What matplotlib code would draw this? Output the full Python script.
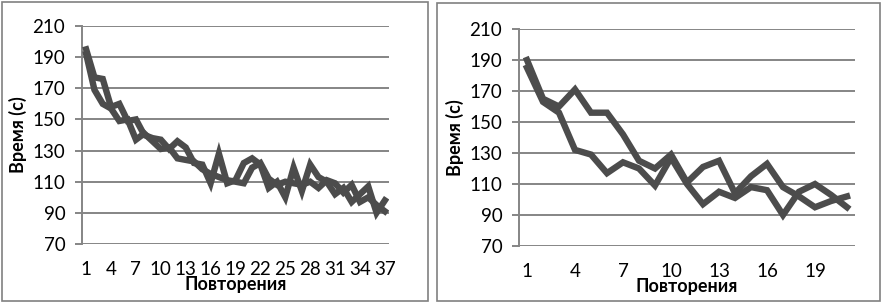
import matplotlib
matplotlib.use('Agg')
import matplotlib.pyplot as plt
from matplotlib.patches import Rectangle

# левый график: 37 повторений
left_a = [195, 177, 176, 158, 160, 149, 150, 140, 138, 137, 131, 136, 132, 122, 121, 109, 128, 109, 111,
          122, 125, 121, 106, 110, 100, 119, 104, 121, 113, 110, 102, 106, 97, 102, 107, 90, 98]
left_b = [192, 169, 160, 157, 149, 150, 137, 141, 136, 131, 132, 125, 124, 123, 118, 115, 113, 111, 110,
          109, 119, 122, 112, 108, 110, 109, 108, 110, 106, 111, 109, 103, 108, 97, 100, 95, 91]
# правый график: 21 повторение
right_a = [190, 165, 160, 171, 156, 156, 142, 125, 120, 129, 111, 121, 125, 104, 115, 123, 108, 102, 95, 99, 102]
right_b = [185, 163, 156, 132, 129, 117, 124, 120, 109, 127, 110, 97, 105, 101, 108, 106, 90, 105, 110, 103, 95]

yticks = [70, 90, 110, 130, 150, 170, 190, 210]

plt.rcParams['font.family'] = ['Lato', 'DejaVu Sans']
fig = plt.figure(figsize=(8.82, 3.03), dpi=100)
W, H = 882.0, 303.0

# рамки областей диаграмм
for x0, y0, x1, y1 in [(2, 2, 428, 301), (437, 3, 880, 301)]:
    fig.patches.append(Rectangle((x0 / W, 1 - y1 / H), (x1 - x0) / W, (y1 - y0) / H,
                                 transform=fig.transFigure, fill=False, edgecolor='#808080', lw=1.2))


def panel(rect, a, b):
    ax = fig.add_axes(rect)
    n = len(a)
    xs = list(range(1, n + 1))
    ax.plot(xs, a, color='#4c4c4c', lw=4.6, solid_joinstyle='miter', zorder=3)
    ax.plot(xs, b, color='#4c4c4c', lw=4.6, solid_joinstyle='miter', zorder=3)
    ax.set_xlim(0.5, n + 0.5)
    ax.set_ylim(70, 210)
    ax.set_yticks(yticks)
    ax.set_xticks(xs[::3])
    ax.grid(axis='y', color='#858585', lw=1.4)
    ax.set_axisbelow(True)
    for s in ['top', 'right', 'bottom']:
        ax.spines[s].set_visible(False)
    ax.spines['left'].set_color('#858585')
    ax.spines['left'].set_linewidth(1.4)
    ax.tick_params(axis='y', length=5, color='#858585', width=1.4, labelsize=13.5, pad=7)
    ax.tick_params(axis='x', length=0, labelsize=13.5, pad=12)
    ax.set_xlabel('Повторения', fontsize=13, fontweight='bold', labelpad=-1)
    ax.set_ylabel('Время (с)', fontsize=13, fontweight='bold', labelpad=4)
    return ax


panel([82 / W, 1 - 244 / H, 307 / W, 218 / H], left_a, left_b)
panel([519 / W, 1 - 246 / H, 336 / W, 217 / H], right_a, right_b)

fig.savefig('out.png', dpi=100)
